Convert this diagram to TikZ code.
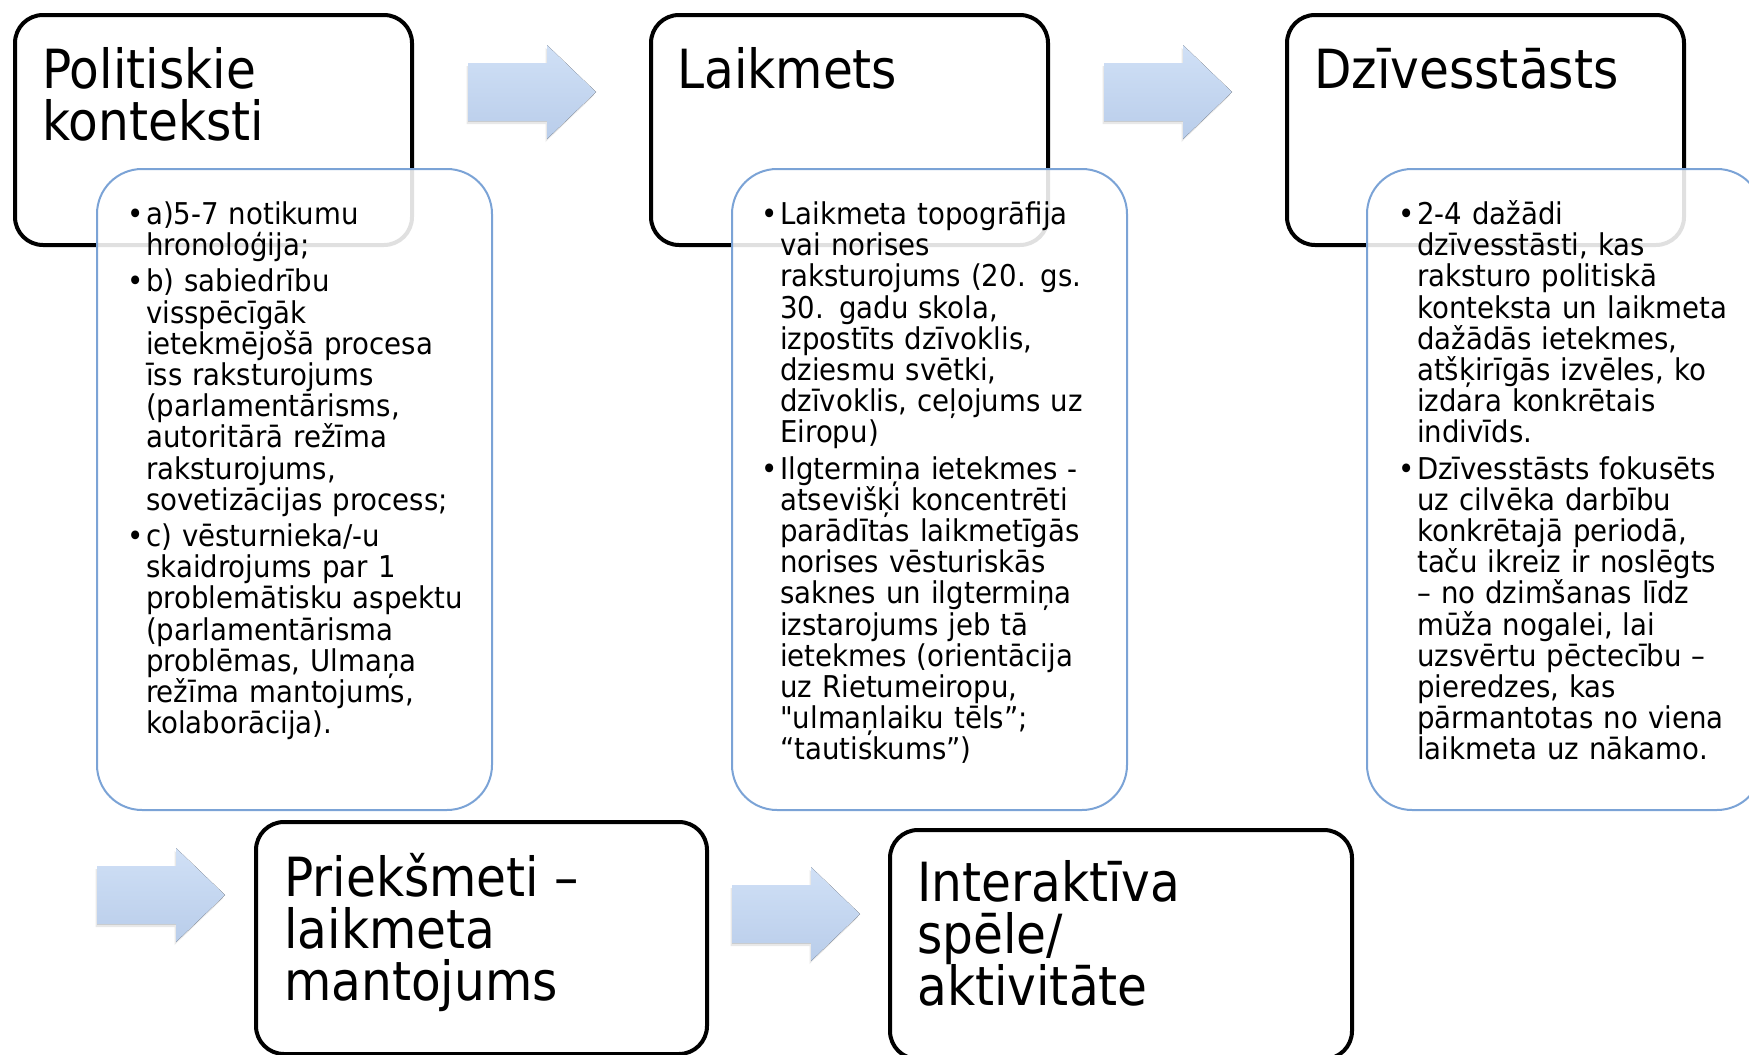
\documentclass[tikz,border=0pt]{standalone}
\usepackage{fontspec}
\setmainfont{DejaVu Sans}[FakeStretch=0.9, Ligatures=TeXOff]
\newfontfamily\bodyfont{DejaVu Sans}[FakeStretch=0.92, Ligatures=TeXOff]
\usetikzlibrary{positioning,shadows}
\definecolor{boxblue}{HTML}{7BA3D6}
\definecolor{arrowtop}{HTML}{D0E0F6}
\definecolor{arrowbot}{HTML}{B9CDEA}

% bullet with hanging indent
\newcommand{\bpt}{\par\parskip=5pt\lineskiplimit=-100pt\hangindent=22pt\hangafter=1\noindent\makebox[22pt][l]{\rule{0pt}{28pt}\hspace{3pt}•}}
% block arrow from its left middle point
\newcommand{\bluearrow}[1]{\fill[arrowfill] (#1) ++(0,-29) -- ++(79,0) -- ++(0,-18) -- ++(49,47) -- ++(-49,47) -- ++(0,-18) -- ++(-79,0) -- cycle;}

\tikzset{
  titlebox/.style={draw=black, line width=4pt, rounded corners=28pt, fill=white, inner sep=0pt, anchor=north west},
  infobox/.style={draw=boxblue, line width=2pt, rounded corners=45pt, fill=white, fill opacity=0.88, inner sep=0pt, anchor=north west, minimum width=395pt, minimum height=641pt},
  titletext/.style={inner sep=0pt, align=left, font={\fontsize{54}{52}\selectfont\lineskiplimit=-100pt}},
  bodytext/.style={inner sep=0pt, text width=350pt, align=left, font={\bodyfont\fontsize{30}{31.2}\selectfont\lineskiplimit=-100pt}},
  arrowfill/.style={top color=arrowtop, bottom color=arrowbot, draw=none, drop shadow={shadow xshift=-1.5pt, shadow yshift=-3pt, opacity=0.18}}
}

\begin{document}
\begin{tikzpicture}[x=1pt, y=-1pt]
\useasboundingbox (0,0) rectangle (1749,1055);
\clip (0,0) rectangle (1749,1055);

% black title boxes
\node[titlebox, minimum width=397pt, minimum height=230pt] (p1) at (13,13) {};
\node[titlebox, minimum width=397pt, minimum height=230pt] (p2) at (649,13) {};
\node[titlebox, minimum width=397pt, minimum height=230pt] (p3) at (1285,13) {};
\node[titlebox, minimum width=451pt, minimum height=232pt] (p4) at (254,820) {};
\node[titlebox, minimum width=462pt, minimum height=229pt] (p5) at (888,828) {};

\node[titletext, below right=30pt and 29pt of p1.north west] (t1) {\rule{0pt}{45pt}Politiskie\\konteksti};
\node[titletext, below right=30pt and 28pt of p2.north west] (t2) {\rule{0pt}{45pt}Laikmets};
\node[titletext, below right=30pt and 29pt of p3.north west] (t3) {\rule{0pt}{45pt}Dzīvesstāsts};
\node[titletext, below right=31pt and 30pt of p4.north west] (t4) {\rule{0pt}{45pt}Priekšmeti –\\laikmeta\\mantojums};
\node[titletext, below right=28pt and 29pt of p5.north west] (t5) {\rule{0pt}{45pt}Interaktīva\\spēle/\\aktivitāte};

% arrows
\coordinate (a1) at (468,92);
\coordinate (a2) at (1104,92);
\coordinate (a3) at (97,895);
\coordinate (a4) at (732,914);
\bluearrow{a1}
\bluearrow{a2}
\bluearrow{a3}
\bluearrow{a4}

% blue boxes
\node[infobox] (b1) at (96,168) {};
\node[infobox] (b2) at (731,168) {};
\node[infobox] (b3) at (1366,168) {};

\node[bodytext, below right=20pt and 28pt of b1.north west] (l1) {%
\bpt a)5-7 notikumu\newline hronoloģija;
\bpt b) sabiedrību\newline visspēcīgāk\newline ietekmējošā procesa\newline īss raksturojums\newline (parlamentārisms,\newline autoritārā režīma\newline raksturojums,\newline sovetizācijas process;
\bpt c) vēsturnieka/-u\newline skaidrojums par 1\newline problemātisku aspektu\newline (parlamentārisma\newline problēmas, Ulmaņa\newline režīma mantojums,\newline kolaborācija).\par};

\node[bodytext, below right=20pt and 27pt of b2.north west] (l2) {%
\bpt Laikmeta topogrāfija\newline vai norises\newline raksturojums (20. gs.\newline 30. gadu skola,\newline izpostīts dzīvoklis,\newline dziesmu svētki,\newline dzīvoklis, ceļojums uz\newline Eiropu)
\bpt Ilgtermiņa ietekmes -\newline atsevišķi koncentrēti\newline parādītas laikmetīgās\newline norises vēsturiskās\newline saknes un ilgtermiņa\newline izstarojums jeb tā\newline ietekmes (orientācija\newline uz Rietumeiropu,\newline "ulmaņlaiku tēls”;\newline “tautiskums”)\par};

\node[bodytext, below right=20pt and 29pt of b3.north west] (l3) {%
\bpt 2-4 dažādi\newline dzīvesstāsti, kas\newline raksturo politiskā\newline konteksta un laikmeta\newline dažādās ietekmes,\newline atšķirīgās izvēles, ko\newline izdara konkrētais\newline indivīds.
\bpt Dzīvesstāsts fokusēts\newline uz cilvēka darbību\newline konkrētajā periodā,\newline taču ikreiz ir noslēgts\newline – no dzimšanas līdz\newline mūža nogalei, lai\newline uzsvērtu pēctecību –\newline pieredzes, kas\newline pārmantotas no viena\newline laikmeta uz nākamo.\par};
\end{tikzpicture}
\end{document}
